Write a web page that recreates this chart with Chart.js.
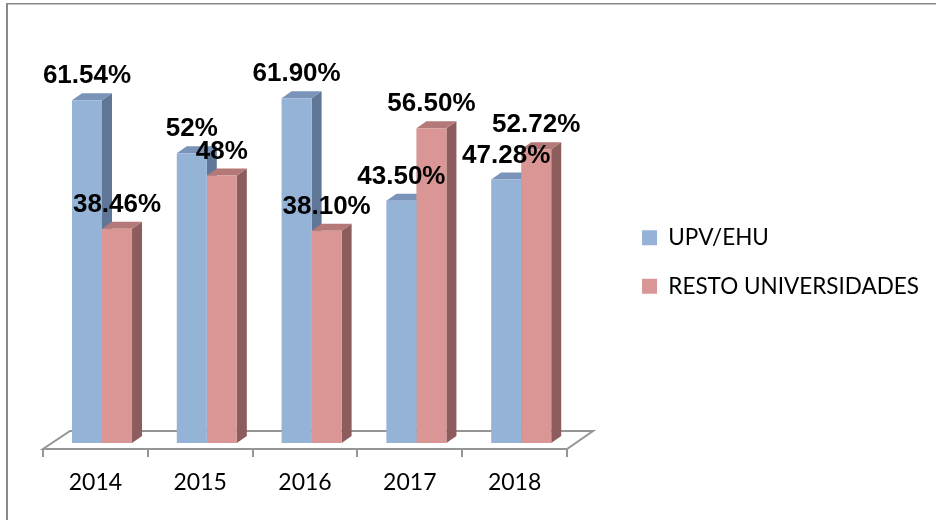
<!DOCTYPE html>
<html>
<head>
<meta charset="utf-8">
<script src="https://cdn.jsdelivr.net/npm/chart.js@4/dist/chart.umd.min.js"></script>
<style>
  body { margin: 0; background: #fff; }
  #wrap { width: 936px; height: 520px; position: relative; }
</style>
</head>
<body>
<div id="wrap"><canvas id="chart"></canvas></div>
<script>
// data
var years = ['2014', '2015', '2016', '2017', '2018'];
var upvData = [61.54, 52, 61.90, 43.50, 47.28];
var restoData = [38.46, 48, 38.10, 56.50, 52.72];
var upvLabels = ['61.54%', '52%', '61.90%', '43.50%', '47.28%'];
var restoLabels = ['38.46%', '48%', '38.10%', '56.50%', '52.72%'];
var seriesNames = ['UPV/EHU', 'RESTO UNIVERSIDADES'];

var frontColors = ['#95B3D7', '#D99694'];
var topColors = ['#7A93B8', '#B37877'];
var sideColors = ['#5F7696', '#8C5D5C'];
var valueLabels = [upvLabels, restoLabels];

var DX = 10, DY = 7;        // 3d depth of the bars
var FLOOR_SHIFT = 6.6;      // floor front edge is left of the bar plane
var PLOT_WIDTH = 524;       // width of the category axis

var frame = {
    id: 'frame',
    beforeDraw: function (chart) {
        var ctx = chart.ctx;
        ctx.save();
        ctx.fillStyle = '#8a8a8a';
        ctx.fillRect(6, 3, 2, 520);
        ctx.fillRect(6, 3, 930, 1.5);
        ctx.restore();
    }
};

var bars3d = {
    id: 'bars3d',
    afterLayout: function (chart) {
        // leave room between the plot and the legend for the 3d floor
        var xs = chart.scales.x;
        xs.right = xs.left + PLOT_WIDTH;
        xs.width = PLOT_WIDTH;
        xs.configure();
    },
    beforeDatasetsDraw: function (chart) {
        var ctx = chart.ctx;
        var xs = chart.scales.x;
        var w = (xs.right - xs.left) / years.length;
        var b = chart.chartArea.bottom;
        var fl = xs.left - FLOOR_SHIFT, fr = xs.right - FLOOR_SHIFT;
        ctx.save();
        // floor
        ctx.strokeStyle = '#959595';
        ctx.lineWidth = 2;
        ctx.beginPath();
        ctx.moveTo(fl, b + 6);
        ctx.lineTo(fr, b + 6);
        ctx.lineTo(fr + 26, b - 12);
        ctx.lineTo(fl + 27, b - 12);
        ctx.closePath();
        ctx.stroke();
        ctx.beginPath();
        for (var i = 0; i <= years.length; i++) {
            var tx = Math.round(fl + i * w);
            ctx.moveTo(tx, b + 6);
            ctx.lineTo(tx, b + 14);
        }
        ctx.stroke();

        // top and side faces, per category, blue first
        for (var c = 0; c < years.length; c++) {
            for (var d = 0; d < chart.data.datasets.length; d++) {
                var el = chart.getDatasetMeta(d).data[c];
                var p = el.getProps(['x', 'y', 'base', 'width'], true);
                var x0 = p.x - p.width / 2, x1 = p.x + p.width / 2;
                ctx.fillStyle = sideColors[d];
                ctx.beginPath();
                ctx.moveTo(x1, p.y);
                ctx.lineTo(x1 + DX, p.y - DY);
                ctx.lineTo(x1 + DX, p.base - DY);
                ctx.lineTo(x1, p.base);
                ctx.closePath();
                ctx.fill();
                ctx.fillStyle = topColors[d];
                ctx.beginPath();
                ctx.moveTo(x0, p.y);
                ctx.lineTo(x1, p.y);
                ctx.lineTo(x1 + DX, p.y - DY);
                ctx.lineTo(x0 + DX, p.y - DY);
                ctx.closePath();
                ctx.fill();
            }
        }
        ctx.restore();
    },
    afterDatasetsDraw: function (chart) {
        var ctx = chart.ctx;
        ctx.save();
        ctx.font = 'bold 26px "Liberation Sans", Arial, sans-serif';
        ctx.fillStyle = '#000';
        ctx.textAlign = 'center';
        ctx.textBaseline = 'alphabetic';
        for (var d = 0; d < chart.data.datasets.length; d++) {
            chart.getDatasetMeta(d).data.forEach(function (el, i) {
                var p = el.getProps(['x', 'y'], true);
                ctx.fillText(valueLabels[d][i], p.x, p.y - 17);
            });
        }
        ctx.restore();
    }
};

new Chart(document.getElementById('chart'), {
    type: 'bar',
    data: {
        labels: years,
        datasets: [{
            label: seriesNames[0],
            data: upvData,
            backgroundColor: frontColors[0],
            borderWidth: 0
        }, {
            label: seriesNames[1],
            data: restoData,
            backgroundColor: frontColors[1],
            borderWidth: 0
        }]
    },
    options: {
        responsive: true,
        maintainAspectRatio: false,
        animation: false,
        layout: { padding: { left: 49.6, top: 53, right: 7, bottom: 0 } },
        datasets: { bar: { barPercentage: 1, categoryPercentage: 0.573 } },
        scales: {
            x: {
                grid: { display: false, drawTicks: false },
                border: { display: false },
                ticks: {
                    color: '#000',
                    font: { family: 'Lato', size: 23 },
                    padding: 26,
                    labelOffset: -FLOOR_SHIFT,
                    maxRotation: 0
                },
                afterFit: function (s) { s.height = 77; }
            },
            y: { display: false, min: 0, max: 70 }
        },
        plugins: {
            legend: {
                position: 'right',
                fullSize: false,
                title: {
                    display: true,
                    text: '',
                    font: { size: 12 },
                    padding: { top: 0, bottom: 13.6 }
                },
                labels: {
                    color: '#000',
                    font: { family: 'Lato', size: 22.5 },
                    boxWidth: 15,
                    boxHeight: 15,
                    padding: 26
                }
            },
            tooltip: { enabled: false }
        }
    },
    plugins: [frame, bars3d]
});
</script>
</body>
</html>
